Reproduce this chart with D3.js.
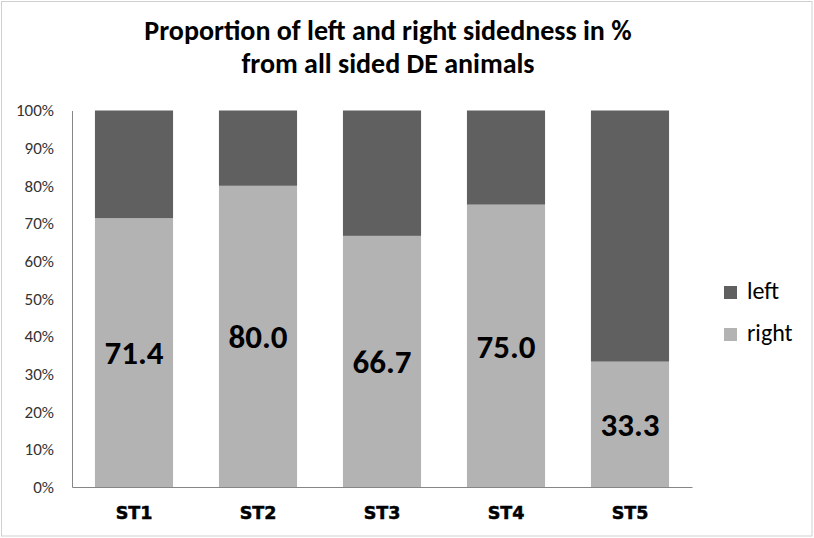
<!DOCTYPE html>
<html>
<head>
<meta charset="utf-8">
<script src="https://cdn.jsdelivr.net/npm/d3@7/dist/d3.min.js"></script>
<style>
  body { margin: 0; background: #fff; }
  svg { display: block; }
</style>
</head>
<body>
<svg id="chart"></svg>
<script>
const categories = ['ST1', 'ST2', 'ST3', 'ST4', 'ST5'];
const rightValues = [71.4, 80.0, 66.7, 75.0, 33.3];
const leftValues = [28.6, 20.0, 33.3, 25.0, 66.7];
const yTicks = [0, 10, 20, 30, 40, 50, 60, 70, 80, 90, 100];
const seriesNames = ['left', 'right'];

const W = 814;
const H = 538;
const MARGIN = { left: 72, right: 122, top: 110.5, bottom: 51 };
const COLORS = { left: '#606060', right: '#b3b3b3' };
const calibri = "Carlito, Calibri, Lato, 'Open Sans', sans-serif";

const svg = d3.select('#chart').attr('width', W).attr('height', H);

svg.append('rect')
  .attr('x', 1.5).attr('y', 1.5)
  .attr('width', W - 3.5).attr('height', H - 3.5)
  .attr('fill', '#fff')
  .attr('stroke', '#d0d0d0');

const x = d3.scaleBand()
  .domain(categories)
  .range([MARGIN.left, W - MARGIN.right])
  .paddingInner(0.37)
  .paddingOuter(0.185);

const y = d3.scaleLinear()
  .domain([0, 100])
  .range([H - MARGIN.bottom, MARGIN.top]);

const rows = categories.map((c, i) => ({ cat: c, right: rightValues[i], left: leftValues[i] }));
const stacked = d3.stack().keys(['right', 'left'])(rows);

// Bars
svg.append('g')
  .selectAll('g')
  .data(stacked)
  .join('g')
  .attr('fill', d => COLORS[d.key])
  .selectAll('rect')
  .data(d => d)
  .join('rect')
  .attr('x', d => x(d.data.cat))
  .attr('width', x.bandwidth())
  .attr('y', d => y(d[1]))
  .attr('height', d => y(d[0]) - y(d[1]));

// Data labels (right segment)
svg.append('g')
  .selectAll('text')
  .data(rows)
  .join('text')
  .attr('x', d => x(d.cat) + x.bandwidth() / 2)
  .attr('y', d => y(d.right / 2))
  .attr('dy', '0.36em')
  .attr('text-anchor', 'middle')
  .style('font-family', calibri)
  .style('font-weight', 'bold')
  .style('font-size', '33px')
  .attr('fill', '#000')
  .text(d => d.right.toFixed(1));

// Y axis
const yAxis = svg.append('g')
  .attr('transform', `translate(${MARGIN.left},0)`)
  .call(d3.axisLeft(y).tickValues(yTicks).tickSize(0).tickPadding(18).tickFormat(d => d + '%'));
yAxis.select('.domain').attr('stroke', '#868686');
yAxis.selectAll('text')
  .style('font-family', calibri)
  .style('font-size', '17px')
  .attr('fill', '#333');

// X axis
const xAxis = svg.append('g')
  .attr('transform', `translate(0,${H - MARGIN.bottom})`)
  .call(d3.axisBottom(x).tickSize(0).tickPadding(20));
xAxis.select('.domain').attr('stroke', '#868686');
xAxis.selectAll('text')
  .style('font-family', "'DejaVu Sans', sans-serif")
  .style('font-weight', 'bold')
  .style('font-size', '17.5px')
  .style('stroke', '#000')
  .style('stroke-width', '0.5px')
  .attr('fill', '#000');

// Title
const title = svg.append('text')
  .attr('text-anchor', 'middle')
  .style('font-family', calibri)
  .style('font-weight', 'bold')
  .style('font-size', '28px')
  .attr('fill', '#000');
title.append('tspan').attr('x', 388).attr('y', 40).text('Proportion of left and right sidedness in %');
title.append('tspan').attr('x', 388).attr('y', 73).text('from all sided DE animals');

// Legend
const legend = svg.append('g')
  .selectAll('g')
  .data(seriesNames)
  .join('g')
  .attr('transform', (d, i) => `translate(724,${286 + i * 42})`);
legend.append('rect')
  .attr('width', 13).attr('height', 13)
  .attr('fill', d => COLORS[d]);
legend.append('text')
  .attr('x', 23).attr('y', 12.5)
  .style('font-family', calibri)
  .style('font-size', '24px')
  .attr('fill', '#000')
  .text(d => d);
</script>
</body>
</html>
